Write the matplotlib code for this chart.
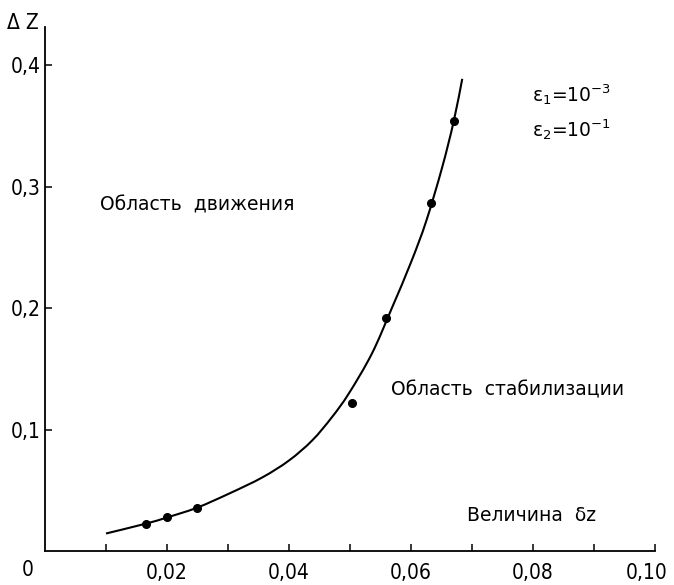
import matplotlib
matplotlib.use("Agg")
import matplotlib.pyplot as plt
import matplotlib.transforms as mtransforms
from matplotlib.path import Path
from matplotlib.patches import PathPatch

# measured points (delta z vs. value of delta-z region boundary)
pts_x = [0.0166, 0.0200, 0.0249, 0.0503, 0.0559, 0.0633, 0.0670]
pts_y = [0.023, 0.028, 0.036, 0.122, 0.192, 0.287, 0.354]

# boundary curve
curve_x = [0.0100, 0.0166, 0.0200, 0.0249, 0.0302, 0.0356, 0.0400, 0.0438,
           0.0470, 0.0498, 0.0536, 0.0569, 0.0600, 0.0625, 0.0651, 0.0670, 0.0684]
curve_y = [0.0148, 0.0230, 0.0280, 0.0360, 0.0477, 0.0609, 0.0749, 0.0914,
           0.1103, 0.1300, 0.1630, 0.2008, 0.2380, 0.2720, 0.3160, 0.3540, 0.3890]

x_ticks = [0.01, 0.02, 0.03, 0.04, 0.05, 0.06, 0.07, 0.08, 0.09, 0.10]
x_labels = ["", "0,02", "", "0,04", "", "0,06", "", "0,08", "", "0,10"]
y_ticks = [0.1, 0.2, 0.3, 0.4]
y_labels = ["0,1", "0,2", "0,3", "0,4"]

plt.rcParams["mathtext.fontset"] = "dejavusans"
TICK_FONT = dict(family="DejaVu Sans", stretch="condensed", size=15)


def smooth_path(xs, ys):
    # catmull-rom through the read points, drawn as bezier segments
    verts = [(xs[0], ys[0])]
    codes = [Path.MOVETO]
    n = len(xs)
    for i in range(n - 1):
        x0, y0 = (xs[i - 1], ys[i - 1]) if i > 0 else (xs[i], ys[i])
        x1, y1 = xs[i], ys[i]
        x2, y2 = xs[i + 1], ys[i + 1]
        x3, y3 = (xs[i + 2], ys[i + 2]) if i + 2 < n else (x2, y2)
        verts += [(x1 + (x2 - x0) / 6, y1 + (y2 - y0) / 6),
                  (x2 - (x3 - x1) / 6, y2 - (y3 - y1) / 6),
                  (x2, y2)]
        codes += [Path.CURVE4] * 3
    return Path(verts, codes)


fig = plt.figure(figsize=(6.74, 5.85), dpi=100)
ax = fig.add_axes([0.0668, 0.0573, 0.905, 0.8966])

ax.add_patch(PathPatch(smooth_path(curve_x, curve_y), facecolor="none",
                       edgecolor="black", linewidth=1.5))
ax.plot(pts_x, pts_y, "o", color="black", markersize=5.5)

ax.set_xlim(0, 0.10)
ax.set_ylim(0, 0.4317)
for side in ("top", "right"):
    ax.spines[side].set_visible(False)
for side in ("left", "bottom"):
    ax.spines[side].set_linewidth(1.3)

ax.set_xticks(x_ticks)
ax.set_xticklabels(x_labels, fontdict=TICK_FONT)
ax.set_yticks(y_ticks)
ax.set_yticklabels(y_labels, fontdict=TICK_FONT)
ax.tick_params(direction="in", length=5, width=1.1)
ax.tick_params(axis="x", pad=8)
ax.tick_params(axis="y", pad=3)

# last x label sits at the right edge; nudge it in so it stays whole
last = ax.get_xticklabels()[-1]
last.set_transform(last.get_transform()
                   + mtransforms.ScaledTranslation(-6 / 72, 0, fig.dpi_scale_trans))

ax.text(-0.0028, -0.015, "0", fontdict=TICK_FONT, ha="center", va="center", clip_on=False)
ax.text(-0.0036, 0.435, "Δ Z", fontdict=TICK_FONT, ha="center", va="center", clip_on=False)

ax.text(0.0090, 0.285, "Область  движения", fontsize=13.5, ha="left", va="center")
ax.text(0.0567, 0.133, "Область  стабилизации", fontsize=13.5, ha="left", va="center")
ax.text(0.0692, 0.030, "Величина  δz", fontsize=13.5, ha="left", va="center")

ax.text(0.0798, 0.376, r"ε$_1$=10$^{-3}$", fontsize=13.5, ha="left", va="center")
ax.text(0.0798, 0.347, r"ε$_2$=10$^{-1}$", fontsize=13.5, ha="left", va="center")

fig.savefig("out.png", dpi=100)
